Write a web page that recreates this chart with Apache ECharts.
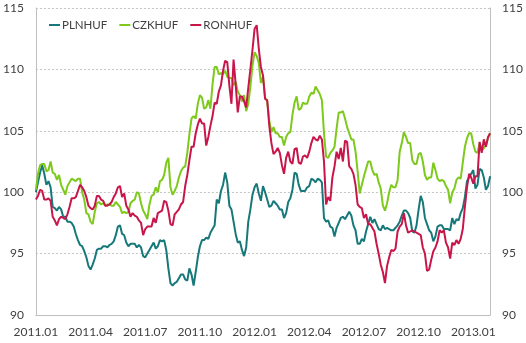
<!DOCTYPE html>
<html><head><meta charset="utf-8">
<script src="https://cdn.jsdelivr.net/npm/echarts@6/dist/echarts.min.js"></script>
<style>html,body{margin:0;padding:0;background:#fff}#c{width:526px;height:343px}</style>
</head><body><div id="c"></div>
<script>
// Index values read twice a week (Monday, Thursday) starting 2011-01-03
const tickLabels = ['2011.01','2011.04','2011.07','2011.10','2012.01','2012.04','2012.07','2012.10','2013.01'];
const yTicks = [90, 95, 100, 105, 110, 115];

// PLNHUF: Monday readings, Thursday readings
const plnMon = [
100,101.6,101.5,100.9,98.8,98.5,98.6,98,97.6,97.2,
96.1,95.6,94.7,93.7,94.6,95.4,95.6,95.5,95.8,96.5,
97.3,96.5,95.6,95.8,95.5,95.5,94.7,95.3,95.9,95.6,
96,95.3,92.6,92.6,93,93.3,92.8,93.3,93.5,95.6,
96.1,96.2,97,99.4,100.1,101.6,98.9,97.6,95.9,95.3,
95.5,98.6,100.4,99.9,100.5,99.4,98.9,99.1,98.6,97.9,
99.2,100.2,101.5,100.1,100.1,100.5,101,101.1,100.8,97.6,
97.2,96.4,97.5,98,98.1,98.1,96.9,95.8,96,97.4,
97.5,97.4,96.9,97,97,96.9,97.3,98.1,98.5,97.9,
96.7,98.6,99.2,97.4,96.7,96.4,97.3,97,97,97.9,
97.8,98.3,99.6,101.2,101.8,100.6,101.8,100.2,101.3];
const plnThu = [
100.8,102.2,100.6,100.4,98.7,98.8,98,97.6,97.5,96.6,
95.7,95.2,94,94.1,95.3,95.4,95.6,95.7,96,97.2,
96.6,95.9,95.8,95.8,95.7,94.8,95,95.6,95.4,96.1,
96.1,93.8,92.4,92.7,93.3,92.9,93.8,92.4,94.7,96.1,
96.3,96.7,97.3,99.1,100.6,100.8,98.6,96.6,96,94.8,
97.6,99.8,100.7,99.3,100,98.8,99.3,98.9,98.6,98.3,
99.5,101.6,100.6,100.1,100.4,101.1,100.8,101,97.9,97.7,
97.1,97.1,97.9,97.8,98.4,97.3,95.8,96.2,96.8,98,
97.8,97,97.3,97.1,96.9,97.1,97.6,98.5,98.3,96.8,
97.3,99.7,97.9,96.9,96,97.2,97.3,97,96.9,97.4,
97.7,98.7,100.9,101.5,100.3,101.9,101.2,100.5];

// CZKHUF
const czkMon = [
100.2,102.2,102.3,101.8,101.6,101,100.6,99.8,100.8,101,
101.1,100,98.3,97.6,98.4,99.2,99.1,99,98.9,99.2,
98.8,98.4,98.4,99.3,100,99.1,98.2,99,99.8,100,
101,102.4,100.4,100.1,101.2,102,103.2,106,106,107.9,
106.8,107.5,108.8,110.2,109.7,109.9,109.3,108.7,108.2,107.4,
106.6,108.6,111.4,110.5,109.4,107.4,104.9,104.8,104.5,103.8,
104.8,106.3,107.8,106.8,107.2,107.8,108,108.3,107.5,102.9,
103.2,103.7,106.5,106.6,105.3,104.3,103.3,99.9,101.3,102.5,
101.8,101.5,100.3,98.5,100,100.4,101,104,104.5,104,
102.3,103.1,102.5,101,101.2,101.8,100.9,100.9,100.2,100,
101,101.1,103.7,104.8,103.9,103.2,103.4,103.8,104.8];
const czkThu = [
101.5,102.3,101.7,102.5,101.5,101.4,100.2,100.5,101.1,100.9,
101.1,99.4,98.2,97.4,99.1,99,98.9,99,98.9,99,
98.3,98.3,99.1,99.4,99.9,98.5,97.8,99.7,100.4,100.9,
101.4,102.8,99.8,100.5,101.7,102.1,104.7,106.2,107.2,107.7,
106.9,106.8,110.2,109.6,109.6,109.4,109.3,109,107.9,107.9,
107.2,110.3,111.1,108.9,107.7,105.8,105.3,104.8,104.5,104.5,
104.9,107.3,106.7,107.3,107.2,108.1,108.6,108,104.8,102.8,
103.4,105.2,106.5,106,104.8,104.3,101.7,100.6,101.9,102.5,
101.4,100.8,98.9,99.1,100.6,100.4,103.3,104.9,104,102.6,
102.3,103.2,101.4,101.2,102.4,101.1,101,100.5,99.1,100.3,
101.2,102.4,104.4,104.8,103.3,104,103.6,104.4];

// RONHUF
const ronMon = [
99.4,100.2,99.4,99.5,98,97.3,98,97.8,98.8,99.5,
100.1,100.4,99.6,98.7,98.9,99.7,99.3,98.9,99.2,99.9,
100.5,99.9,98.6,98.3,98,97.5,97,97.2,97.9,98.3,
98.5,99.2,97.4,98.2,98.6,99.2,101.4,103.7,104.8,106,
105.6,104.5,106.2,107.2,108.7,110.7,108.7,110.8,106.5,107.8,
106.9,110,113.3,111.7,109.5,107.5,104,103.3,103.2,101.5,
103.3,102.3,103.6,102.3,103,103.3,104.5,104.2,104.3,99,
99.3,102.1,102.7,102.5,104.1,101.9,100.6,98.8,97.9,97.4,
97.1,95.8,94.1,92.6,94.7,95.2,96.8,97.4,97.3,96.8,
96.8,96.6,95.5,93.6,94.5,95.5,96.9,96.9,95.5,95.9,
96.1,96.2,98.8,101.5,100.7,101.3,103.2,103.7,104.8];
const ronThu = [
99.7,100.1,99.4,99.3,97.7,97.8,97.9,98.2,99.5,99.6,
100.6,100.1,98.9,98.6,99.7,99.4,98.9,99,99.6,100.4,
99.6,98.9,98,98.1,97.7,96.5,97.2,97.2,97.5,98.4,
99.3,98.5,97.3,98.4,99,100.5,102.6,103.7,105.5,105.6,
103.8,105.4,107.3,108.2,109.9,110.6,107.2,108.8,107.8,107.4,
108.5,111.6,113.6,110.2,107.6,105.4,103.1,103.6,102.2,102.8,
102.5,103.5,102.4,102.9,102.8,104,104.3,104.6,102.5,99.6,
101.2,103.3,103.6,104.2,102.1,101.5,99,98.7,98.2,97.4,
96.8,95,93.5,94,95.3,95.4,97.2,98.3,96.7,96.9,
96.7,96.5,95,93.7,95.2,96,96.7,95.9,94.6,95.7,
95.8,97,100.4,101.2,101.3,104.1,104.3,104.5];

function merge(mon, thu) {
  const out = [];
  mon.forEach((v, i) => { out.push(v); if (i < thu.length) out.push(thu[i]); });
  return out;
}
const plnhuf = merge(plnMon, plnThu);
const czkhuf = merge(czkMon, czkThu);
const ronhuf = merge(ronMon, ronThu);
const categories = plnhuf.map((_, j) =>
  new Date(Date.UTC(2011, 0, 3 + 7 * Math.floor(j / 2) + (j % 2) * 3)).toISOString().slice(0, 10));

const FONT = 'Lato';
const labelColor = '#404040';
const axisGray = '#bfbfbf';
const STEP = 26; // one quarter = 13 weeks = 26 readings

const chart = echarts.init(document.getElementById('c'), null, {renderer: 'canvas'});
const yAxisBase = {
  type: 'value', min: yTicks[0], max: yTicks[yTicks.length - 1], interval: 5,
  axisLine: {show: true, lineStyle: {color: axisGray, width: 1}},
  axisTick: {show: false},
  axisLabel: {color: labelColor, fontFamily: FONT, fontSize: 12, margin: 12}
};
chart.setOption({
  animation: false,
  backgroundColor: '#fff',
  grid: {left: 33, right: 34, top: 8, bottom: 28, containLabel: false},
  color: ['#17787a', '#7dc91c', '#c8164b'],
  legend: {
    left: 49, top: 19, itemWidth: 11, itemHeight: 2, itemGap: 12, icon: 'rect', padding: 0,
    textStyle: {color: labelColor, fontFamily: FONT, fontSize: 11.5, padding: [0, 0, 0, -3]},
    data: ['PLNHUF', 'CZKHUF', 'RONHUF']
  },
  xAxis: {
    type: 'category', data: categories, boundaryGap: false,
    axisLine: {show: true, lineStyle: {color: axisGray, width: 1}},
    axisTick: {show: false},
    axisLabel: {
      interval: STEP - 1, color: labelColor, fontFamily: FONT, fontSize: 12, margin: 11,
      formatter: (v, i) => (i % STEP === 0 ? (tickLabels[i / STEP] || '') : '')
    },
    splitLine: {show: false}
  },
  yAxis: [
    Object.assign({}, yAxisBase, {position: 'left',
      splitLine: {show: true, lineStyle: {color: '#c4c4c4', type: [2, 2], width: 1}}}),
    Object.assign({}, yAxisBase, {position: 'right', splitLine: {show: false}})
  ],
  series: [
    {name: 'PLNHUF', type: 'line', data: plnhuf, showSymbol: false, lineStyle: {width: 2}},
    {name: 'CZKHUF', type: 'line', data: czkhuf, showSymbol: false, lineStyle: {width: 2}},
    {name: 'RONHUF', type: 'line', data: ronhuf, showSymbol: false, lineStyle: {width: 2}}
  ]
});
</script>
</body></html>
